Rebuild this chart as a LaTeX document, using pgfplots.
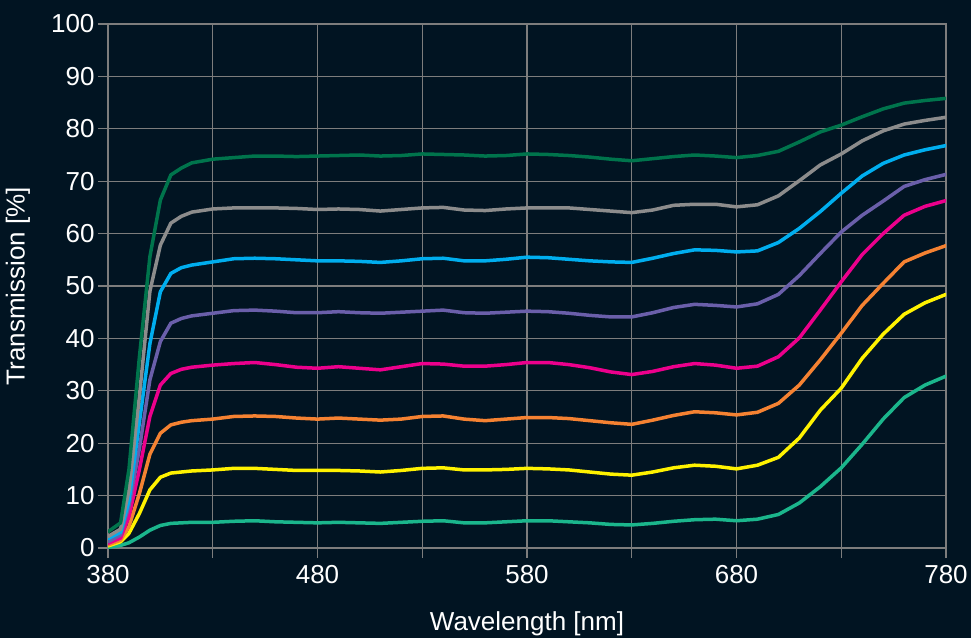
\documentclass[border=0pt]{standalone}
\usepackage{fontspec}
\setmainfont{Liberation Sans}
\usepackage{pgfplots}
\usepackage{pgfplotstable}
\pgfplotsset{compat=1.18}
\definecolor{bg}{RGB}{1,20,34}
\definecolor{gridc}{RGB}{125,125,125}
\definecolor{cgreen}{RGB}{0,116,76}
\definecolor{cgray}{RGB}{140,140,140}
\definecolor{ccyan}{RGB}{0,174,239}
\definecolor{cpurple}{RGB}{106,95,170}
\definecolor{cpink}{RGB}{236,0,140}
\definecolor{corange}{RGB}{245,130,50}
\definecolor{cyellow}{RGB}{255,242,0}
\definecolor{cteal}{RGB}{27,182,140}
\pgfplotstableread{
x     g     gr    c     p     pk    o     y     t
380   3.1   2.2   1.8   1.2   0.9   0.6   0.4   0.1
386   4.8   3.6   3.0   2.5   1.9   1.5   1.2   0.5
390   15.0  11.0  9.0   8.0   6.0   4.1   2.8   1.0
395   36.5  29.0  24.0  19.0  15.0  10.4  6.6   2.1
400   55.6  49.0  39.0  32.1  25.1  17.9  11.1  3.4
405   66.4  57.8  48.9  39.4  31.1  21.9  13.5  4.3
410   71.2  62.0  52.4  42.9  33.3  23.5  14.3  4.7
415   72.5  63.3  53.5  43.8  34.1  24.0  14.5  4.8
420   73.5  64.1  54.0  44.3  34.5  24.3  14.7  4.9
430   74.2  64.7  54.6  44.8  34.9  24.6  14.9  4.9
440   74.5  64.9  55.2  45.3  35.2  25.1  15.2  5.1
450   74.8  64.9  55.3  45.4  35.4  25.2  15.2  5.2
460   74.8  64.9  55.2  45.2  35.0  25.1  15.0  5.0
470   74.7  64.8  55.0  44.9  34.5  24.8  14.8  4.9
480   74.8  64.6  54.8  44.9  34.3  24.6  14.8  4.8
490   74.9  64.7  54.8  45.1  34.6  24.8  14.8  4.9
500   75.0  64.6  54.7  44.9  34.3  24.6  14.7  4.8
510   74.8  64.3  54.5  44.8  34.0  24.4  14.5  4.7
520   74.9  64.6  54.8  45.0  34.6  24.6  14.8  4.9
530   75.2  64.9  55.2  45.2  35.2  25.1  15.2  5.1
540   75.1  65.0  55.3  45.4  35.1  25.2  15.3  5.2
550   75.0  64.5  54.8  44.9  34.7  24.6  14.9  4.8
560   74.8  64.4  54.8  44.8  34.7  24.3  14.9  4.8
570   74.9  64.7  55.1  45.0  35.0  24.6  15.0  5.0
580   75.2  64.9  55.5  45.2  35.4  24.9  15.2  5.2
590   75.1  64.9  55.4  45.1  35.4  24.9  15.1  5.2
600   74.9  64.9  55.1  44.8  35.0  24.7  14.9  5.0
610   74.6  64.6  54.8  44.4  34.4  24.3  14.5  4.8
620   74.2  64.3  54.6  44.1  33.6  23.9  14.1  4.5
630   73.9  64.0  54.5  44.1  33.1  23.6  13.9  4.4
640   74.3  64.5  55.3  44.9  33.7  24.4  14.5  4.7
650   74.7  65.4  56.2  45.9  34.6  25.3  15.3  5.1
660   75.0  65.6  56.9  46.5  35.2  26.0  15.8  5.4
670   74.8  65.6  56.8  46.3  34.9  25.8  15.6  5.5
680   74.5  65.1  56.5  46.0  34.3  25.4  15.1  5.2
690   74.9  65.5  56.7  46.6  34.7  25.9  15.8  5.5
700   75.7  67.2  58.3  48.4  36.5  27.6  17.3  6.4
710   77.5  70.1  61.0  52.0  40.1  31.1  21.0  8.6
720   79.4  73.1  64.2  56.2  45.4  35.9  26.3  11.7
730   80.7  75.2  67.7  60.3  50.8  41.0  30.5  15.3
740   82.3  77.7  71.0  63.5  56.0  46.3  36.2  19.8
750   83.8  79.6  73.4  66.2  60.0  50.5  40.8  24.6
760   84.9  80.9  75.0  69.0  63.5  54.6  44.6  28.7
770   85.4  81.6  76.0  70.3  65.2  56.3  46.8  31.1
780   85.8  82.2  76.8  71.3  66.3  57.7  48.4  32.8
}\datatable
\begin{document}
\begin{tikzpicture}
\fill[bg] (0,0) rectangle (971pt,638pt);
\path[use as bounding box] (0,0) rectangle (971pt,638pt);
\begin{axis}[
  at={(108pt,90pt)}, anchor=south west,
  scale only axis, width=838pt, height=524pt,
  xmin=380, xmax=780, ymin=0, ymax=100,
  xtick={380,480,580,680,780},
  minor xtick={430,530,630,730},
  ytick={0,10,...,100},
  grid=both,
  grid style={color=gridc, line width=1.3pt},
  minor grid style={color=gridc, line width=1.3pt},
  axis line style={color=gridc, line width=1.3pt},
  tick style={color=gridc, line width=1.3pt},
  minor tick style={color=gridc, line width=1.3pt},
  tick align=outside, tick pos=left,
  major tick length=10pt, minor tick length=10pt,
  /pgf/number format/assume math mode=true,
  tick label style={font=\fontsize{26}{30}\selectfont, text=white},
  xticklabel style={yshift=-4pt},
  every axis x label/.style={at={(axis description cs:0.5,-0.145)}, anchor=center, font=\fontsize{26}{30}\selectfont, text=white},
  every axis y label/.style={at={(axis description cs:-0.1074,0.5)}, anchor=center, rotate=90, font=\fontsize{26}{30}\selectfont, text=white},
  xlabel={Wavelength [nm]},
  ylabel={Transmission [\%]},
  every axis plot/.append style={line width=3.5pt, line join=round, line cap=round, mark=none},
]
\addplot[cteal] table[x=x,y=t] {\datatable};
\addplot[cyellow] table[x=x,y=y] {\datatable};
\addplot[corange] table[x=x,y=o] {\datatable};
\addplot[cpink] table[x=x,y=pk] {\datatable};
\addplot[cpurple] table[x=x,y=p] {\datatable};
\addplot[ccyan] table[x=x,y=c] {\datatable};
\addplot[cgray] table[x=x,y=gr] {\datatable};
\addplot[cgreen] table[x=x,y=g] {\datatable};
\end{axis}
\end{tikzpicture}
\end{document}
